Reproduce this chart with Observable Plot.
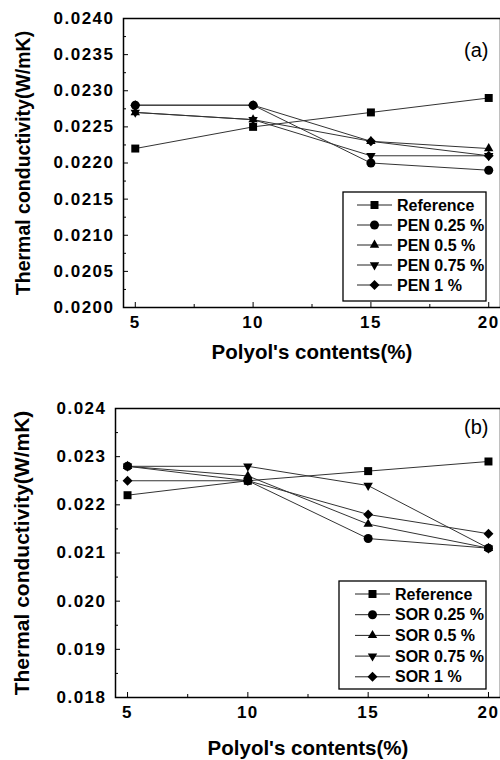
<!DOCTYPE html>
<html><head><meta charset="utf-8">
<script src="https://cdn.jsdelivr.net/npm/d3@7"></script>
<script src="https://cdn.jsdelivr.net/npm/@observablehq/plot@0.6"></script>
<style>
body{margin:0;background:#fff;}
#wrap{position:relative;width:500px;height:760px;overflow:hidden;background:#fff;}
#wrap > svg{display:block;overflow:visible;}
g[aria-label="y-axis tick label"] text, g[aria-label="x-axis tick label"] text{letter-spacing:1.5px;}
#legend{position:absolute;left:0;top:0;pointer-events:none;}
</style></head><body><div id="wrap"></div>
<script>
// ---- data ----
const xs = [5, 10, 15, 20];
const xMajor = [5, 10, 15, 20];
const xMinor = [7.5, 12.5, 17.5];
const xTitle = "Polyol's contents(%)";
const yTitle = "Thermal conductivity(W/mK)";

const seriesA = ["Reference", "PEN 0.25 %", "PEN 0.5 %", "PEN 0.75 %", "PEN 1 %"];
const refA   = [0.0222, 0.0225, 0.0227, 0.0229];
const pen025 = [0.0228, 0.0228, 0.0220, 0.0219];
const pen05  = [0.0227, 0.0226, 0.0223, 0.0222];
const pen075 = [0.0227, 0.0226, 0.0221, 0.0221];
const pen1   = [0.0228, 0.0228, 0.0223, 0.0221];
const yMajorA = [0.0200, 0.0205, 0.0210, 0.0215, 0.0220, 0.0225, 0.0230, 0.0235, 0.0240];
const yMinorA = [0.02025, 0.02075, 0.02125, 0.02175, 0.02225, 0.02275, 0.02325, 0.02375];

const seriesB = ["Reference", "SOR 0.25 %", "SOR 0.5 %", "SOR 0.75 %", "SOR 1 %"];
const refB   = [0.0222, 0.0225, 0.0227, 0.0229];
const sor025 = [0.0228, 0.0225, 0.0213, 0.0211];
const sor05  = [0.0228, 0.0226, 0.0216, 0.0211];
const sor075 = [0.0228, 0.0228, 0.0224, 0.0211];
const sor1   = [0.0225, 0.0225, 0.0218, 0.0214];
const yMajorB = [0.018, 0.019, 0.020, 0.021, 0.022, 0.023, 0.024];
const yMinorB = [0.0185, 0.0195, 0.0205, 0.0215, 0.0225, 0.0235];

const symbols = ["square", "circle", "triangle2", "triangle2", "diamond2"];
const rotations = [0, 0, 0, 180, 0];

function panel(cfg) {
  const {series, values, yDomain, yMajor, yMinor, yFmt, marginLeft, marginTop, marginBottom,
         label, labelDy, titleDy, ytitleDx, ytitleSize} = cfg;
  const W = 500, H = 380;
  const pw = W - marginLeft, ph = H - marginTop - marginBottom;
  const rows = series.flatMap((s, i) => xs.map((x, j) => ({series: s, x, y: values[i][j], rot: rotations[i]})));
  return Plot.plot({
    width: W, height: H, marginLeft, marginRight: 0, marginTop, marginBottom,
    style: {fontFamily: "'Liberation Sans', Arial, sans-serif", fontWeight: "bold", color: "#000", background: "#fff", overflow: "visible"},
    x: {domain: [4.5, 20.5], axis: null},
    y: {domain: yDomain, axis: null},
    symbol: {domain: series, range: symbols},
    marks: [
      Plot.tickX(xMajor, {x: d => d, insetTop: ph - 5, stroke: "#000", strokeWidth: 1}),
      Plot.tickX(xMinor, {x: d => d, insetTop: ph - 3, stroke: "#000", strokeWidth: 1}),
      Plot.tickY(yMajor, {y: d => d, insetRight: pw - 5, stroke: "#000", strokeWidth: 1}),
      Plot.tickY(yMinor, {y: d => d, insetRight: pw - 3, stroke: "#000", strokeWidth: 1}),
      Plot.axisX({ticks: xMajor, tickSize: 0, tickPadding: 8, fontSize: 17, fontWeight: "bold", label: null, tickFormat: d => String(d)}),
      Plot.axisY({ticks: yMajor, tickSize: 0, tickPadding: 9, fontSize: 17, fontWeight: "bold", label: null, tickFormat: d3.format(yFmt)}),
      Plot.line(rows, {x: "x", y: "y", z: "series", stroke: "#333", strokeWidth: 1}),
      Plot.dot(rows, {x: "x", y: "y", symbol: "series", r: 4.5, fill: "#000", stroke: "none", rotate: "rot"}),
      Plot.frame({stroke: "#000", strokeWidth: 1.5}),
      Plot.text([label], {text: d => d, frameAnchor: "top-right", dx: -12, dy: labelDy, lineAnchor: "middle", textAnchor: "end", fontSize: 20, fontWeight: "normal"}),
      Plot.text([xTitle], {text: d => d, frameAnchor: "bottom", dy: titleDy, lineAnchor: "middle", textAnchor: "middle", fontSize: 20.5}),
      Plot.text([yTitle], {text: d => d, frameAnchor: "left", dx: ytitleDx, rotate: -90, lineAnchor: "middle", textAnchor: "middle", fontSize: ytitleSize})
    ]
  });
}

const wrap = document.getElementById("wrap");
wrap.append(panel({
  series: seriesA, values: [refA, pen025, pen05, pen075, pen1],
  yDomain: [0.0200, 0.0240], yMajor: yMajorA, yMinor: yMinorA, yFmt: ".4f",
  marginLeft: 123, marginTop: 18, marginBottom: 73,
  label: "(a)", labelDy: 32, titleDy: 45, ytitleDx: -100, ytitleSize: 19.5
}));
wrap.append(panel({
  series: seriesB, values: [refB, sor025, sor05, sor075, sor1],
  yDomain: [0.018, 0.024], yMajor: yMajorB, yMinor: yMinorB, yFmt: ".3f",
  marginLeft: 115, marginTop: 28, marginBottom: 63,
  label: "(b)", labelDy: 19, titleDy: 51, ytitleDx: -93, ytitleSize: 21
}));

// ---- legends ----
const svg = d3.select(wrap).append("svg").attr("id", "legend").attr("width", 500).attr("height", 760)
  .style("font-family", "'Liberation Sans', Arial, sans-serif").style("font-weight", "bold");
const d3sym = {square: d3.symbolSquare, circle: d3.symbolCircle, triangle2: d3.symbolTriangle2, diamond2: d3.symbolDiamond2};
function legend(series, box, lx1, lx2, tx, y0, dy) {
  svg.append("rect").attr("x", box[0]).attr("y", box[1]).attr("width", box[2]).attr("height", box[3])
    .attr("fill", "#fff").attr("stroke", "#000").attr("stroke-width", 1.3);
  series.forEach((s, i) => {
    const y = y0 + i * dy;
    svg.append("line").attr("x1", lx1).attr("x2", lx2).attr("y1", y).attr("y2", y).attr("stroke", "#222").attr("stroke-width", 1);
    svg.append("path").attr("d", d3.symbol(d3sym[symbols[i]], Math.PI * 4.5 * 4.5)())
      .attr("transform", `translate(${(lx1 + lx2) / 2},${y}) rotate(${rotations[i]})`).attr("fill", "#000");
    svg.append("text").attr("x", tx).attr("y", y).attr("dominant-baseline", "central").attr("font-size", 16).text(s);
  });
}
legend(seriesA, [343, 192, 143, 109], 357, 392, 397, 205, 20);
legend(seriesB, [339, 581, 147, 108], 355, 390, 395, 594, 20.7);
</script>
</body></html>
